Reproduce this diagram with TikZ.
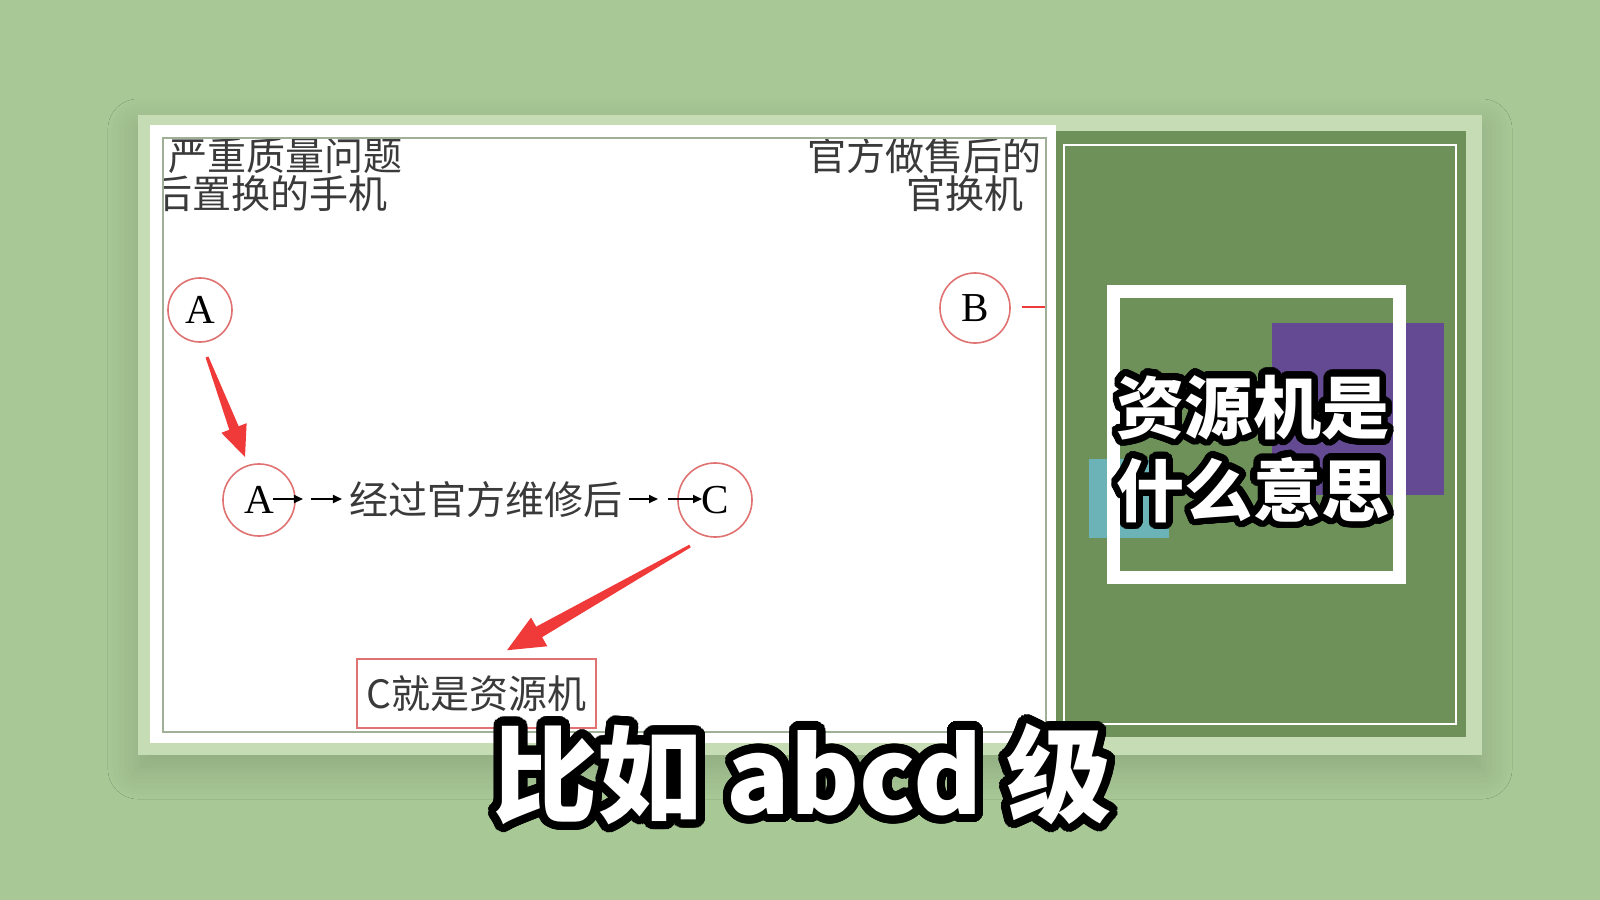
\documentclass[tikz,border=0pt]{standalone}
\usepackage{fontspec}
\usepackage{contour}
\usetikzlibrary{calc,arrows.meta,shadows.blur}
\newfontfamily\cjk{Noto Sans CJK SC}
\newfontfamily\lserif{Liberation Serif}
\newcommand\myfs[2]{\fontsize{#1}{#2}\selectfont}
\contournumber{48}
\definecolor{bgc}{HTML}{A8C896}
\definecolor{framec}{HTML}{C6DCB4}
\definecolor{panelc}{HTML}{6E9159}
\definecolor{purplec}{HTML}{634A92}
\definecolor{tealc}{HTML}{6BB3B6}
\definecolor{circc}{HTML}{E07272}
\definecolor{arrowred}{HTML}{F03A3A}
\definecolor{borderc}{HTML}{A0B096}
\definecolor{txtc}{HTML}{3A3A3A}
\newcommand\fatarrow[6]{%
  \coordinate (fab) at ($(#2)!#3!(#1)$);
  \fill[arrowred] ($(#1)!#6!90:(#2)$) -- ($(fab)!#5!90:(#2)$) -- ($(fab)!#4!90:(#2)$)
    -- (#2) -- ($(fab)!#4!-90:(#2)$) -- ($(fab)!#5!-90:(#2)$) -- ($(#1)!#6!-90:(#2)$) -- cycle;
}
\tikzset{
  txt/.style={inner sep=0pt, text=txtc, font=\cjk\myfs{11.1pt}{13pt}},
  letter/.style={inner sep=0pt, text=black, font=\lserif\myfs{11.7pt}{13pt}},
  ring/.style={circle, draw=circc, line width=0.016cm, inner sep=0pt},
  smallarr/.style={draw=black, line width=0.018cm, -{Triangle[length=0.09cm,width=0.08cm]}},
}
\begin{document}
\begin{tikzpicture}[x=0.01cm, y=-0.01cm]
\useasboundingbox (0,0) rectangle (1600,900);
\fill[bgc] (0,0) rectangle (1600,900);
% outer light frame with soft shadow
\fill[framec, blur shadow={shadow xshift=0cm, shadow yshift=-0.14cm, shadow blur radius=0.3cm, shadow blur steps=14, shadow opacity=16}] (138,115) rectangle (1482,755);
% white left panel
\fill[white] (150,125) rectangle (1056,743);
% dark green right panel
\fill[panelc] (1056,131) rectangle (1466,737);
\draw[white, line width=0.015cm] (1064,145) rectangle (1456,724);
\fill[purplec] (1272,323) rectangle (1444,495);
\fill[tealc] (1089,459) rectangle (1169,538);
\draw[white, line width=0.13cm] (1113.5,291.5) rectangle (1399.5,577.5);
\node[align=center, text=white, inner sep=0pt, font=\cjk\bfseries\myfs{19.4pt}{23.6pt}] (title) at (1253,452)
  {\contourlength{0.065cm}\contour{black}{资源机是}\\\contourlength{0.065cm}\contour{black}{什么意思}};
% screenshot area
\begin{scope}
\clip (163,138) rectangle (1046,732);
\node[txt, anchor=west] (t1a) at (168,156) {严重质量问题};
\node[txt, anchor=east] (t1b) at (388,194) {后置换的手机};
\node[txt, anchor=east] (t2a) at (1042,156) {官方做售后的};
\node[txt, anchor=east] (t2b) at (1024,194) {官换机};
\node[ring, minimum size=0.64cm] (A1) at (200,310) {};
\node[letter] (A1l) at (A1.center) {A};
\node[ring, minimum size=0.70cm] (B) at (975,308) {};
\node[letter] (Bl) at (B.center) {B};
\coordinate (Bend) at (1046,307);
\draw[arrowred, line width=0.02cm] ($(B.east)+(11,-1)$) -- (Bend);
\node[ring, minimum size=0.72cm] (A2) at (259,500) {};
\node[letter] (A2l) at (A2.center) {A};
\node[ring, minimum size=0.74cm] (C) at (715,500) {};
\node[letter] (Cl) at (C.center) {C};
\node[txt] (M) at (486,500) {经过官方维修后};
\draw[smallarr] ($(A2.center)+(14,-1)$) -- ($(A2.center)+(44,-1)$);
\draw[smallarr] ($(A2.center)+(52,-1)$) -- ($(A2.center)+(83,-1)$);
\draw[smallarr] ($(C.center)+(-86,-1)$) -- ($(C.center)+(-57,-1)$);
\draw[smallarr] ($(C.center)+(-47,-1)$) -- ($(C.center)+(-13,-1)$);
\node[draw=circc, line width=0.015cm, minimum width=2.39cm, minimum height=0.69cm, inner sep=0pt, text=txtc, font=\cjk\myfs{11.1pt}{13pt}] (Cbox) at (476.5,693.5) {C就是资源机};
\coordinate (r1t) at ($(A1.center)+(7,47)$);
\coordinate (r1h) at ($(A2.center)+(-14,-43)$);
\fatarrow{r1t}{r1h}{0.31cm}{0.135cm}{0.05cm}{0.015cm}
\coordinate (r2t) at ($(C.center)+(-25,46)$);
\coordinate (r2h) at ($(Cbox.north)+(30.5,-8)$);
\fatarrow{r2t}{r2h}{0.37cm}{0.165cm}{0.06cm}{0.015cm}
\end{scope}
\draw[borderc, line width=0.02cm] (163,138) rectangle (1046,732);
% caption
\node[text=white, inner sep=0pt, font=\cjk\bfseries\myfs{29.9pt}{32pt}] (cap) at (802,778)
  {\contourlength{0.085cm}\contour{black}{比如 abcd 级}};
\end{tikzpicture}
\end{document}
